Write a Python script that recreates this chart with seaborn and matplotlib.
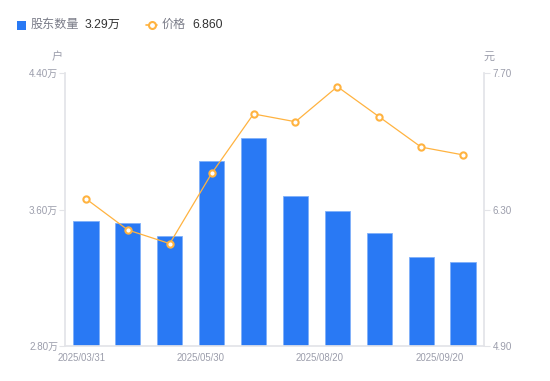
import matplotlib
matplotlib.use("Agg")
import matplotlib.pyplot as plt
import seaborn as sns
import pandas as pd
import numpy as np
from matplotlib.lines import Line2D
from matplotlib.patches import Rectangle

# ---- data ----
holders = [3.535, 3.52, 3.445, 3.886, 4.02, 3.678, 3.59, 3.461, 3.321, 3.29]  # 万户
price = [6.41, 6.09, 5.95, 6.67, 7.28, 7.20, 7.56, 7.25, 6.94, 6.86]
tick_labels = ["2025/03/31", "2025/05/30", "2025/08/20", "2025/09/20"]
left_ticks = [2.80, 3.60, 4.40]
right_ticks = [4.90, 6.30, 7.70]

sns.set_theme(style="white")
FAM = ['Liberation Sans', 'Noto Sans CJK SC', 'DejaVu Sans']
plt.rcParams['font.family'] = FAM

BLUE = "#2979F4"
ORANGE = "#FFB340"
GRAY = "#9B9DAB"
AXC = "#E3E4E8"

fig = plt.figure(figsize=(5.5, 3.81), dpi=100)
ax = fig.add_axes([65/550, 1-346/381, (484-65)/550, (346-73)/381])

df = pd.DataFrame({"idx": list(range(len(holders))), "holders": holders, "price": price})
sns.barplot(data=df, x="idx", y="holders", color=BLUE, width=0.6, ax=ax,
            saturation=1, edgecolor="#7FB0FA", linewidth=0.6)
ax.set_ylim(left_ticks[0], left_ticks[-1])
ax.set_xlim(-0.5, len(holders) - 0.5)

ax2 = ax.twinx()
sns.lineplot(data=df, x="idx", y="price", ax=ax2, color=ORANGE, linewidth=0.9,
             marker="o", markersize=4.5, markerfacecolor="white",
             markeredgecolor=ORANGE, markeredgewidth=1.5)
ax2.set_ylim(right_ticks[0], right_ticks[-1])
ax2.set_xlim(-0.5, len(holders) - 0.5)

for a in (ax, ax2):
    for s in a.spines.values():
        s.set_visible(False)
    a.set_xlabel("")
    a.set_ylabel("")
    a.grid(False)

ax.spines["left"].set_visible(True)
ax.spines["left"].set_color(AXC)
ax.spines["bottom"].set_visible(True)
ax.spines["bottom"].set_color(AXC)
ax2.spines["right"].set_visible(True)
ax2.spines["right"].set_color(AXC)

ax.set_yticks(left_ticks)
ax.set_yticklabels([f"{v:.2f}万" for v in left_ticks])
ax.tick_params(axis="y", colors=AXC, labelcolor=GRAY, labelsize=7.1, length=4, width=0.8, pad=1, left=True)
ax2.set_yticks(right_ticks)
ax2.set_yticklabels([f"{v:.2f}" for v in right_ticks])
ax2.tick_params(axis="y", colors=AXC, labelcolor=GRAY, labelsize=7.1, length=4, width=0.8, pad=2, right=True)

ax.set_xticks([-0.1, 2.74, 5.58, 8.45])
ax.set_xticklabels(tick_labels)
ax.tick_params(axis="x", length=0, labelcolor=GRAY, labelsize=6.9, pad=5)

fig.text(57/550, 1-57/381, "户", color=GRAY, fontsize=8, ha="center", va="center")
fig.text(489/550, 1-57/381, "元", color=GRAY, fontsize=8, ha="center", va="center")

# legend
ly = 1 - 25/381
fig.patches.append(Rectangle((16.7/550, 1-29.5/381), 9/550, 9/381, transform=fig.transFigure,
                             facecolor=BLUE, edgecolor="none", figure=fig))
fig.text(31/550, ly, "股东数量", color="#7A7C88", fontsize=8.7, ha="left", va="center")
fig.text(85/550, ly, f"{holders[-1]:.2f}万", color="#333333", fontsize=8.7, ha="left", va="center")
fig.lines.append(Line2D([146/550, 157/550], [ly, ly], transform=fig.transFigure, color=ORANGE,
                        linewidth=1.2, figure=fig))
fig.lines.append(Line2D([151.5/550], [ly], transform=fig.transFigure, color=ORANGE, linestyle="none",
                        marker="o", markersize=5, markerfacecolor="white", markeredgecolor=ORANGE,
                        markeredgewidth=1.5, figure=fig))
fig.text(162/550, ly, "价格", color="#7A7C88", fontsize=8.7, ha="left", va="center")
fig.text(192/550, ly, f"{price[-1]:.3f}", color="#333333", fontsize=8.7, ha="left", va="center")

fig.savefig("out.png", dpi=100)
